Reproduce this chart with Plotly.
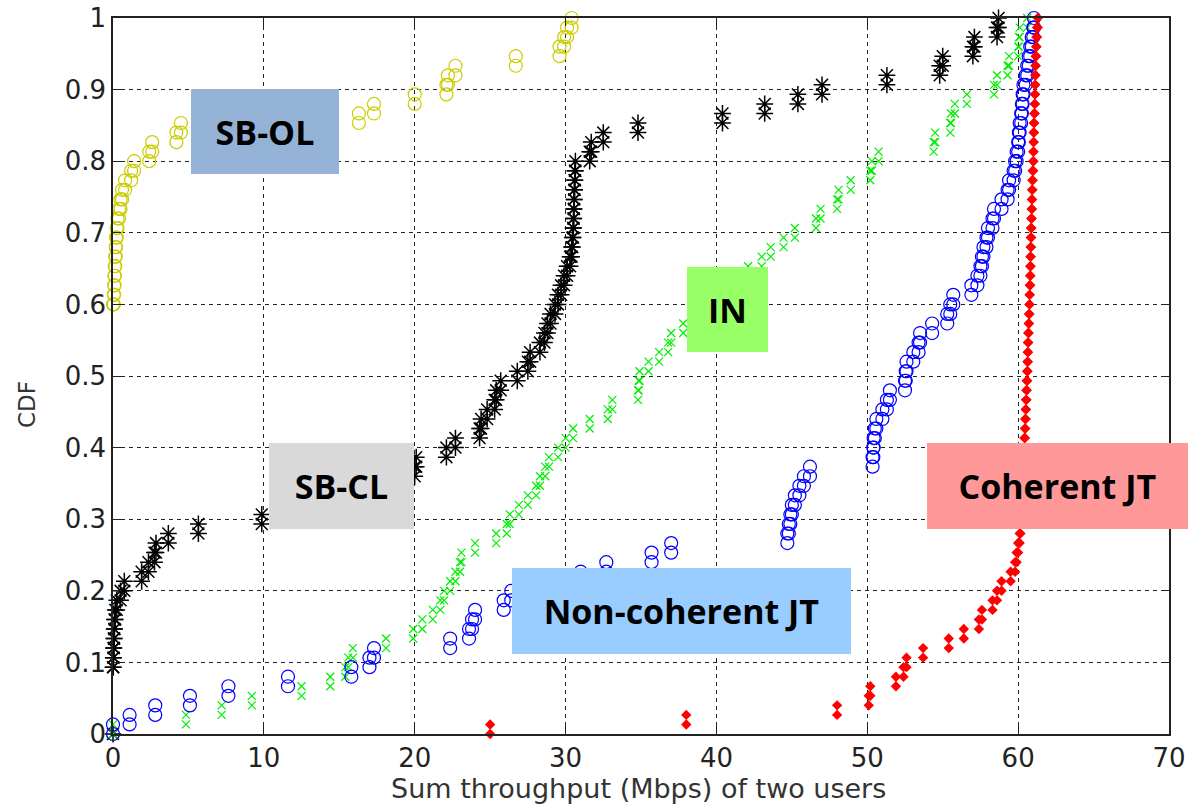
import plotly.graph_objects as go

# ---------------- data (sample values, N = 75 each) ----------------
sb_ol_samples = ([0.0] * 45 +
                 [0.05, 0.08, 0.1, 0.12, 0.15, 0.18, 0.2, 0.25, 0.3,
                  0.4, 0.5, 0.6, 0.8, 1.2, 1.4, 2.4, 2.6, 4.2, 4.5,
                  16.3, 17.3, 20.0, 22.1, 22.2, 22.7, 26.7, 29.6, 29.9, 30.1, 30.4])

sb_cl_samples = ([0.0] * 7 +
                 [0.02, 0.04, 0.06, 0.08, 0.1, 0.15, 0.25,
                  0.5, 0.75, 1.9, 2.35, 2.75, 2.85, 3.67, 5.66, 9.86,
                  12.0, 14.5, 16.5, 18.5,
                  20.0, 20.1, 22.1, 22.7, 24.3, 24.4, 24.8, 25.3, 25.4, 25.7,
                  26.8, 27.5, 27.65, 28.3, 28.6, 28.8, 29.0, 29.3, 29.5, 29.7,
                  29.9, 30.1, 30.3, 30.4, 30.45, 30.5, 30.52, 30.54, 30.56, 30.58,
                  30.6, 30.62, 30.65, 31.6, 31.7, 32.5, 34.8, 40.4, 43.2, 45.4,
                  47.0, 51.3, 54.8, 55.0, 57.0, 57.1, 58.6, 58.7])

in_samples = [0.0, 4.84, 7.2, 9.2, 12.5, 14.4, 15.4, 15.6, 15.9, 18.1,
              19.9, 20.5, 21.2, 21.7, 21.95, 22.35, 22.7, 23.0, 23.1, 24.0,
              25.4, 26.1, 26.3, 26.9, 27.5, 28.05, 28.3, 28.65, 28.9, 29.5,
              30.0, 30.5, 31.6, 32.8, 33.1, 34.8, 34.85, 34.9, 35.5, 36.2,
              36.8, 37.0, 37.8, 38.5, 39.3, 40.1, 40.8, 41.5, 42.1, 43.0,
              43.6, 44.45, 45.2, 46.6, 46.9, 48.0, 48.1, 48.9, 50.2, 50.3,
              50.75, 54.4, 54.5, 55.5, 55.55, 55.8, 56.6, 58.4, 58.6, 59.3,
              59.4, 60.0, 60.05, 60.1, 60.6]

ncjt_samples = [0.0, 1.1, 2.8, 5.1, 7.65, 11.6, 15.8, 17.0, 17.3, 22.35,
                23.6, 23.8, 24.0, 25.9, 26.4, 28.5, 31.0, 32.7, 35.7, 37.0,
                44.7, 44.8, 44.9, 45.0, 45.2, 45.5, 45.8, 46.2,
                50.35, 50.4, 50.42, 50.5, 50.6, 51.0, 51.3, 51.5, 52.5, 52.55,
                52.6, 53.05, 53.4, 53.5, 54.3, 55.3, 55.5, 55.7, 56.9, 57.3,
                57.5, 57.6, 57.7, 57.9, 58.0, 58.3, 58.4, 58.9, 59.3, 59.4,
                59.7, 59.8, 59.9, 60.0, 60.05, 60.1, 60.2, 60.25, 60.3, 60.35,
                60.5, 60.6, 60.7, 60.8, 60.9, 61.0, 61.05]

cjt_samples = [25.0, 38.0, 48.0, 50.1, 50.2, 51.9, 52.4, 52.6, 53.7, 55.4,
               56.4, 57.4, 57.6, 58.3, 58.6, 58.9, 59.5, 59.8, 59.9, 60.0,
               60.1, 60.15, 60.2, 60.22, 60.25, 60.3, 60.32, 60.35, 60.37, 60.4,
               60.42, 60.45, 60.47, 60.5, 60.52, 60.55, 60.57, 60.6, 60.62, 60.64,
               60.65, 60.67, 60.7, 60.72, 60.75, 60.76, 60.77, 60.8, 60.81, 60.82,
               60.83, 60.85, 60.86, 60.87, 60.9, 60.91, 60.92, 60.95, 60.96, 61.0,
               61.01, 61.02, 61.03, 61.05, 61.06, 61.1, 61.11, 61.12, 61.13, 61.15,
               61.16, 61.2, 61.21, 61.25, 61.3]

x_ticks = [0, 10, 20, 30, 40, 50, 60, 70]
y_ticks = [0, 0.1, 0.2, 0.3, 0.4, 0.5, 0.6, 0.7, 0.8, 0.9, 1]
y_tick_text = ["0", "0.1", "0.2", "0.3", "0.4", "0.5", "0.6", "0.7", "0.8", "0.9", "1"]

labels = ["SB-OL", "SB-CL", "IN", "Non-coherent JT", "Coherent JT"]
x_title = "Sum throughput (Mbps) of two users"
y_title = "CDF"


def ecdf_stairs(samples):
    """Empirical CDF as stair vertices (like MATLAB cdfplot)."""
    s = sorted(samples)
    n = len(s)
    xs, ys = [], []
    prev_f = 0.0
    i = 0
    while i < n:
        v = s[i]
        j = i
        while j < n and s[j] == v:
            j += 1
        f = j / n
        xs += [v, v]
        ys += [prev_f, f]
        prev_f = f
        i = j
    return xs, ys


fig = go.Figure()

styles = [
    (sb_ol_samples, dict(symbol="circle-open", size=13, color="#CCCC00", line=dict(width=1.2))),
    (sb_cl_samples, dict(symbol="asterisk-open", size=14, color="black", line=dict(width=1.5, color="black"))),
    (in_samples, dict(symbol="x-thin-open", size=8, color="#00EE00", line=dict(width=1.2, color="#00EE00"))),
    (ncjt_samples, dict(symbol="circle-open", size=13, color="#0000FF", line=dict(width=1.2))),
    (cjt_samples, dict(symbol="diamond", size=8, color="#FF0000", line=dict(width=0))),
]

for (samples, mk), name in zip(styles, labels):
    xs, ys = ecdf_stairs(samples)
    fig.add_trace(go.Scatter(x=xs, y=ys, mode="markers", marker=mk, name=name,
                             cliponaxis=False, showlegend=False))

# plot area in pixels
L, R, T, B = 113, 1169, 18, 734
W, H = R - L, B - T


def px2paper(cx, cy):
    return (cx - L) / W, (B - cy) / H


boxes = [
    ("SB-OL", 191, 339, 89, 174, "#95B3D7"),
    ("SB-CL", 269, 414, 443, 529, "#D9D9D9"),
    ("IN", 687, 768, 267, 352, "#99FF66"),
    ("Non-coherent JT", 512, 851, 568, 654, "#99CCFF"),
    ("Coherent JT", 927, 1188, 443, 529, "#FF9999"),
]
for text, x0, x1, y0, y1, col in boxes:
    px, py = px2paper((x0 + x1) / 2, (y0 + y1) / 2)
    fig.add_annotation(x=px, y=py, xref="paper", yref="paper", text="<b>%s</b>" % text,
                       showarrow=False, xanchor="center", yanchor="middle",
                       width=x1 - x0, height=y1 - y0, bgcolor=col, borderpad=0,
                       borderwidth=0,
                       font=dict(family="Open Sans", size=34, color="black"))

axis_font = dict(family="DejaVu Sans", size=26, color="#222222")
title_font = dict(family="DejaVu Sans", size=27, color="#333333")

# axis titles placed like the original
tx, ty = px2paper(638, 788)
fig.add_annotation(x=tx, y=ty, xref="paper", yref="paper", text=x_title, showarrow=False,
                   xanchor="center", yanchor="middle", font=title_font)
yx, yy = px2paper(27, 405)
fig.add_annotation(x=yx, y=yy, xref="paper", yref="paper", text=y_title, showarrow=False,
                   xanchor="center", yanchor="middle", textangle=-90,
                   font=dict(family="DejaVu Sans", size=23, color="#333333"))

fig.update_xaxes(range=[0, 70], tickvals=x_ticks, showgrid=True, gridcolor="#222222",
                 griddash="4px,4px", gridwidth=1, zeroline=False, showline=True,
                 linecolor="#222222", linewidth=1.5, mirror="ticks", ticks="inside",
                 ticklen=8, tickcolor="#222222", tickfont=axis_font, automargin=False)
fig.update_yaxes(range=[0, 1], tickvals=y_ticks, ticktext=y_tick_text, showgrid=True,
                 gridcolor="#222222", griddash="4px,4px", gridwidth=1, zeroline=False,
                 showline=True, linecolor="#222222", linewidth=1.5, mirror="ticks",
                 ticks="inside", ticklen=8, tickcolor="#222222", tickfont=axis_font,
                 automargin=False)

fig.update_layout(width=1190, height=805, autosize=False,
                  margin=dict(l=L, r=1190 - R, t=T, b=805 - B, pad=0),
                  paper_bgcolor="white", plot_bgcolor="white")

fig.write_html("out.html", include_plotlyjs=True)
